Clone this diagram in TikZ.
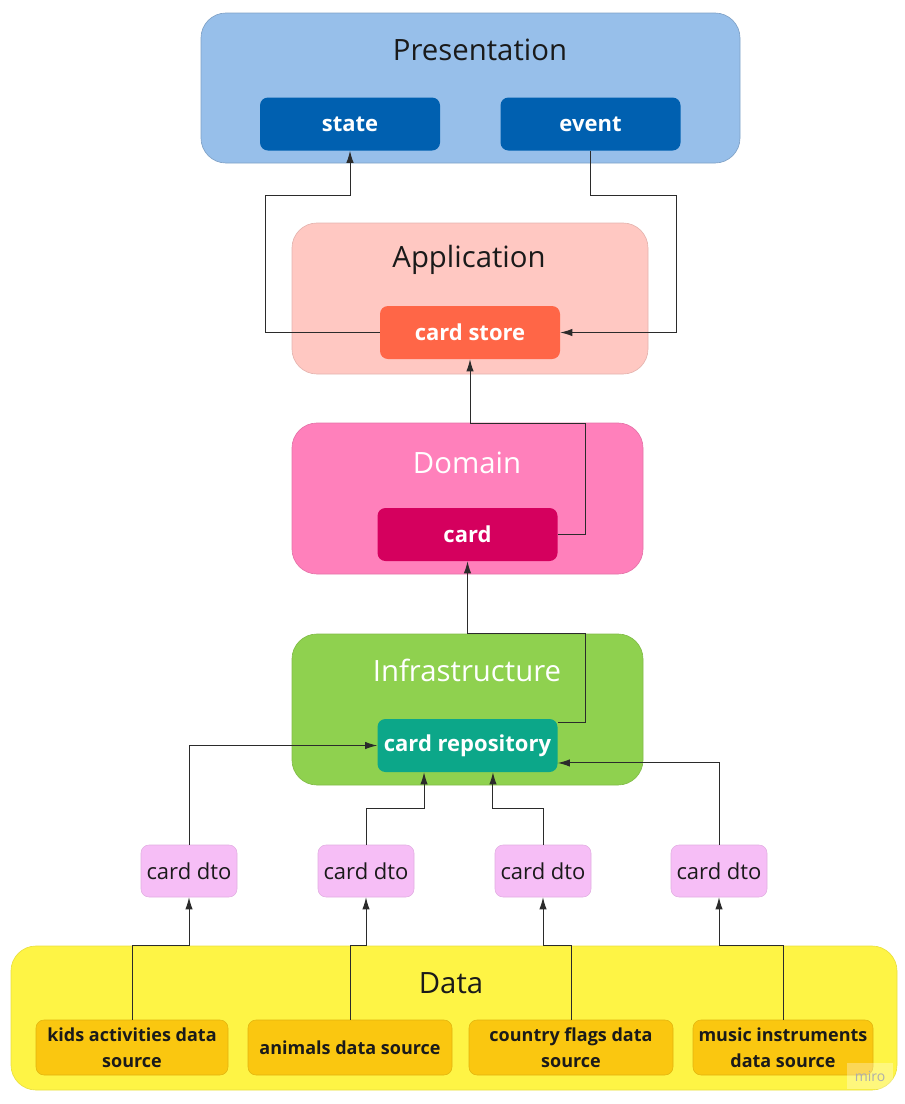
\documentclass[tikz,border=0pt]{standalone}
\usepackage{fontspec}
\setmainfont{Open Sans}
\usetikzlibrary{arrows.meta}
\usetikzlibrary{positioning}
\definecolor{presfill}{HTML}{97BFEA}
\definecolor{presitem}{HTML}{0060B0}
\definecolor{appfill}{HTML}{FFC8C2}
\definecolor{appitem}{HTML}{FF6647}
\definecolor{domfill}{HTML}{FF80BB}
\definecolor{domitem}{HTML}{D5005E}
\definecolor{infrafill}{HTML}{8FD14F}
\definecolor{infraitem}{HTML}{0CA789}
\definecolor{dtofill}{HTML}{F6BEF6}
\definecolor{datafill}{HTML}{FEF445}
\definecolor{srcfill}{HTML}{FAC710}
\definecolor{darktext}{HTML}{1A1A1A}
\definecolor{linegray}{HTML}{2B2B2B}
\tikzset{layer/.style = {rounded corners=18.75pt, inner sep=0, line width=0.5pt}}
\tikzset{item/.style = {rounded corners=6pt, inner sep=0, minimum width=135pt,
                        minimum height=39.75pt, text=white,
                        font=\fontsize{16.5}{20}\selectfont\bfseries}}
\tikzset{title/.style = {inner sep=0, font=\fontsize{22}{26}\selectfont}}
\tikzset{dtobox/.style = {rounded corners=6pt, inner sep=0, fill=dtofill,
                          draw=dtofill!85!black!60!dtofill, line width=0.4pt,
                          minimum width=72pt, minimum height=39pt, text=darktext,
                          font=\fontsize{16.5}{20}\selectfont}}
\tikzset{srcbox/.style = {rounded corners=6pt, inner sep=0, fill=srcfill,
                          draw=srcfill!90!black, line width=0.4pt,
                          minimum height=41.25pt, text=darktext, align=center,
                          font=\fontsize{13.5}{19.5}\selectfont\bfseries}}
\tikzset{conn/.style = {draw=linegray, line width=0.75pt,
                        -{Latex[length=9pt,width=5.5pt]}}}

\begin{document}
\begin{tikzpicture}[x=0.75pt, y=-0.75pt]
    \useasboundingbox (0, 0) rectangle (905, 1104);

    \node [layer, fill=presfill, draw=presfill!85!black, minimum width=404.25pt,
           minimum height=112.5pt] (pres) at (470.5, 88) {};
    \node [title, text=darktext] (prestitle) at (480, 50) {Presentation};
    \node [item, fill=presitem] (state) at (350, 124) {state};
    \node [item, fill=presitem] (event) at (590.5, 124) {event};

    \node [layer, fill=appfill, draw=appfill!90!black, minimum width=267pt,
           minimum height=113.25pt] (app) at (470, 298.5) {};
    \node [title, text=darktext] (apptitle) at (469, 260) {Application};
    \node [item, fill=appitem] (store) at (470, 332.5) {card store};

    \node [layer, fill=domfill, draw=domfill!90!black, minimum width=263.25pt,
           minimum height=113.25pt] (dom) at (467.5, 498.5) {};
    \node [title, text=white] (domtitle) at (467, 463) {Domain};
    \node [item, fill=domitem] (card) at (467.5, 534.5) {card};

    \node [layer, fill=infrafill, draw=infrafill!90!black, minimum width=263.25pt,
           minimum height=113.25pt] (infra) at (467.5, 709.5) {};
    \node [title, text=white] (infratitle) at (467, 670) {Infrastructure};
    \node [item, fill=infraitem] (repo) at (467.5, 745.5) {card repository};

    \node [dtobox] (dto1) at (189, 871) {card dto};
    \node [dtobox] (dto2) at (366, 871) {card dto};
    \node [dtobox] (dto3) at (543, 871) {card dto};
    \node [dtobox] (dto4) at (719, 871) {card dto};

    \node [layer, fill=datafill, draw=datafill!92!black, minimum width=664.5pt,
           minimum height=108pt] (data) at (454, 1018) {};
    \node [title, text=darktext] (datatitle) at (451, 983) {Data};
    \node [srcbox, minimum width=144pt] (kids) at (132, 1047.5)
          {kids activities data\\source};
    \node [srcbox, minimum width=153pt] (animals) at (350, 1047.5)
          {animals data source};
    \node [srcbox, minimum width=153pt] (flags) at (571, 1047.5)
          {country flags data\\source};
    \node [srcbox, minimum width=135pt] (music) at (783, 1047.5)
          {music instruments\\data source};
    \node [inner sep=0, fill=white, fill opacity=0.3, text opacity=1,
           text=black!32, minimum width=34pt, minimum height=19pt,
           font=\fontsize{10.5}{12}\selectfont] (miro) at (870, 1076) {miro};

    \draw [conn] (store.west) -| (265, 195) -| (state.south);
    \draw [conn] (event.south) |- (676, 195) |- (store.east);
    \draw [conn] (card.east) -| (585, 423) -| (store.south);
    \draw [conn] ([yshift=16.9pt]repo.east) -| (585, 633) -| (card.south);

    \draw [conn] (dto1.north) |- (repo.west);
    \draw [conn] (dto2.north) -- ++(0, -36) -| ([xshift=-32.6pt]repo.south);
    \draw [conn] (dto3.north) -- ++(0, -36) -| ([xshift=19.1pt]repo.south);
    \draw [conn] (dto4.north) |- ([yshift=-13.1pt]repo.east);

    \draw [conn] (kids.north) -- ++(0, -74) -| (dto1.south);
    \draw [conn] (animals.north) -- ++(0, -74) -| (dto2.south);
    \draw [conn] (flags.north) -- ++(0, -74) -| (dto3.south);
    \draw [conn] (music.north) -- ++(0, -74) -| (dto4.south);
\end{tikzpicture}
\end{document}
